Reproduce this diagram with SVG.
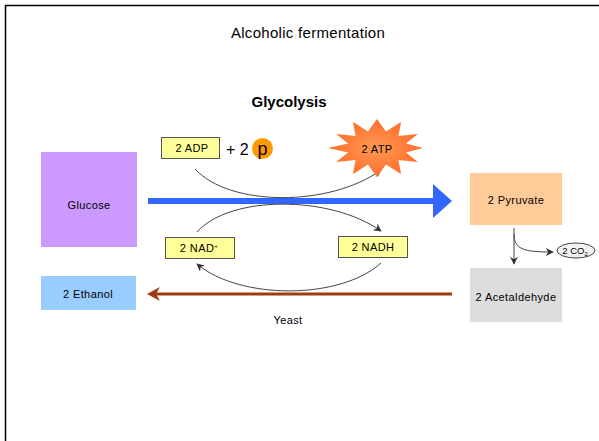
<svg xmlns="http://www.w3.org/2000/svg" width="599" height="441" viewBox="0 0 599 441">
<style>
text{font-family:"Liberation Sans",Arial,sans-serif;fill:#000}
.lbl{font-size:11px;text-anchor:middle;letter-spacing:0.4px}
.ybox{fill:#FFFF99;stroke:#555;stroke-width:1}
.curve{fill:none;stroke:#444;stroke-width:1}
</style>
<defs>
<marker id="ah" viewBox="0 0 10 10" refX="9" refY="5" markerWidth="8" markerHeight="8" markerUnits="userSpaceOnUse" orient="auto">
<path d="M0,0 L10,5 L0,10 L3,5 Z" fill="#333"/>
</marker>
<radialGradient id="sg" cx="0.5" cy="0.5" r="0.6">
<stop offset="0" stop-color="#FF9955"/>
<stop offset="1" stop-color="#FF6622"/>
</radialGradient>
</defs>
<rect width="599" height="441" fill="#fff"/>
<path d="M5.5,441 V5.5 H599" fill="none" stroke="#000" stroke-width="1.5"/>
<text x="308" y="38" font-size="15" text-anchor="middle" letter-spacing="0.3">Alcoholic fermentation</text>
<text x="289" y="107" font-size="15" font-weight="bold" text-anchor="middle">Glycolysis</text>

<g id="connectors">
<path d="M148,201 H435" stroke="#3366FF" stroke-width="6" fill="none"/>
<path d="M433,184 L452,201 L433,218 Z" fill="#3366FF"/>
<path d="M452,294 H155" stroke="#A33A0E" stroke-width="3" fill="none"/>
<path d="M147,294 L160,287 L156,294 L160,301 Z" fill="#A33A0E"/>
<path class="curve" d="M195,169 C230,207 330,207 381,170" marker-end="url(#ah)"/>
<path class="curve" d="M197,232 C230,195 330,195 381,231" marker-end="url(#ah)"/>
<path class="curve" d="M381,263 C340,300 240,300 197,264" marker-end="url(#ah)"/>
<path class="curve" d="M514,228 V264" marker-end="url(#ah)"/>
<path class="curve" d="M514,234 C514,250 525,252 553,252" marker-end="url(#ah)"/>
</g>

<g id="glucose">
<rect x="41" y="152" width="96" height="95" fill="#CC99FF"/>
<text class="lbl" x="89" y="209">Glucose</text>
</g>
<g id="ethanol">
<rect x="41" y="276" width="95" height="34" fill="#99CCFF"/>
<text class="lbl" x="88" y="298" font-size="12">2 Ethanol</text>
</g>
<g id="adp">
<rect class="ybox" x="161.5" y="137.5" width="58" height="21"/>
<text class="lbl" x="192" y="152">2 ADP</text>
</g>
<g id="phosphate">
<text x="226" y="155" font-size="16">+ 2</text>
<circle cx="262.5" cy="148.5" r="10.5" fill="#FF9900"/>
<text x="262.5" y="155" font-size="18" text-anchor="middle">p</text>
</g>
<g id="atp">
<polygon fill="url(#sg)" points="423,148 406,152.4 417.8,162 398.5,160 401,174 386,164.5 377,177 368,164.5 353,174 355.5,160 336.2,162 348,152.4 328,148 348,143.6 336.2,134 355.5,136 353,122 368,131.5 377,119 386,131.5 401,122 398.5,136 417.8,134 406,143.6"/>
<text class="lbl" x="377" y="153" font-size="12">2 ATP</text>
</g>
<g id="nad">
<rect class="ybox" x="165.5" y="237.5" width="69" height="21"/>
<text class="lbl" x="199" y="252">2 NAD<tspan font-size="6" dy="-4">+</tspan></text>
</g>
<g id="nadh">
<rect class="ybox" x="338.5" y="236.5" width="69" height="21"/>
<text class="lbl" x="373" y="251">2 NADH</text>
</g>
<g id="pyruvate">
<rect x="470" y="173" width="92" height="52" fill="#FFCC99"/>
<text class="lbl" x="516" y="204">2 Pyruvate</text>
</g>
<g id="acetaldehyde">
<rect x="470" y="268" width="92" height="54" fill="#DDDDDD"/>
<text class="lbl" x="516" y="301">2 Acetaldehyde</text>
</g>
<g id="co2">
<ellipse cx="576" cy="250.5" rx="19" ry="7.5" fill="#F2F2F2" stroke="#444" stroke-width="1"/>
<text x="575" y="254" font-size="9.5" text-anchor="middle">2 CO<tspan font-size="6" dy="2">2</tspan></text>
</g>
<text class="lbl" x="288" y="324">Yeast</text>
</svg>
